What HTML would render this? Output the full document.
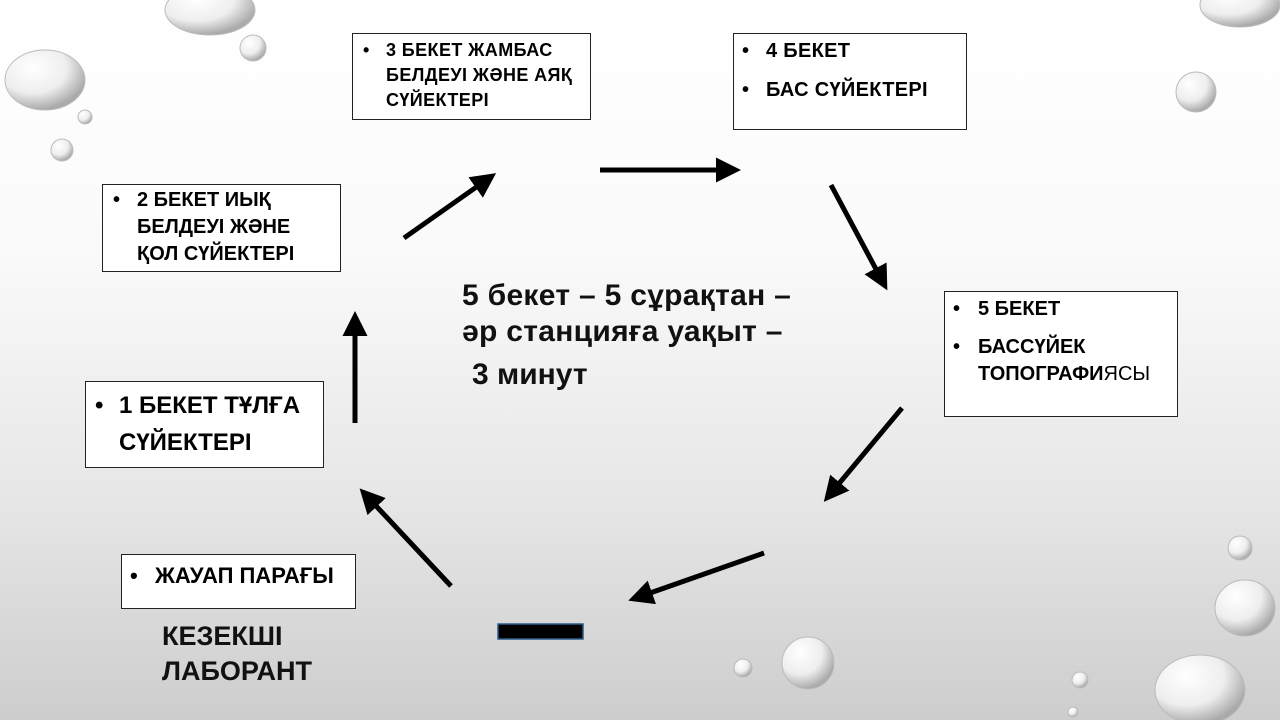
<!DOCTYPE html>
<html><head><meta charset="utf-8"><style>
html,body{margin:0;padding:0}
body{width:1280px;height:720px;position:relative;overflow:hidden;font-family:"Liberation Sans",sans-serif;background:linear-gradient(180deg,#ffffff 0%,#fafafa 35%,#e6e6e6 70%,#cdcdcd 100%)}
.box{position:absolute;border:1px solid #222;background:#fff;font-weight:bold;color:#000;box-sizing:border-box}
.box div{white-space:nowrap}
.t{position:absolute;font-weight:bold;color:#111;white-space:nowrap}
</style></head><body>
<svg width="1280" height="720" style="position:absolute;left:0;top:0">
<defs>
<radialGradient id="d" cx="35%" cy="30%" r="70%"><stop offset="0" stop-color="#fff"/><stop offset="0.6" stop-color="#eee"/><stop offset="1" stop-color="#aaa"/></radialGradient>
<marker id="a" markerWidth="5" markerHeight="5" refX="4" refY="2.5" orient="auto" markerUnits="strokeWidth"><path d="M0,0 L5,2.5 L0,5 Z" fill="#000"/></marker>
</defs>
<g fill="url(#d)" stroke="#bbb" stroke-width="1">
<ellipse cx="210" cy="10" rx="45" ry="25"/>
<circle cx="253" cy="48" r="13"/>
<ellipse cx="45" cy="80" rx="40" ry="30"/>
<circle cx="85" cy="117" r="7"/>
<circle cx="62" cy="150" r="11"/>
<ellipse cx="1240" cy="5" rx="40" ry="22"/>
<circle cx="1196" cy="92" r="20"/>
<circle cx="1240" cy="548" r="12"/>
<ellipse cx="1245" cy="608" rx="30" ry="28"/>
<circle cx="808" cy="663" r="26"/>
<circle cx="743" cy="668" r="9"/>
<ellipse cx="1200" cy="690" rx="45" ry="35"/>
<circle cx="1080" cy="680" r="8"/>
<circle cx="1073" cy="712" r="5"/>
</g>
<g stroke="#000" stroke-width="5" fill="none" marker-end="url(#a)">
<line x1="355" y1="423" x2="355" y2="316"/>
<line x1="404" y1="238" x2="492" y2="176"/>
<line x1="600" y1="170" x2="736" y2="170"/>
<line x1="831" y1="185" x2="885" y2="286"/>
<line x1="902" y1="408" x2="827" y2="498"/>
<line x1="764" y1="553" x2="633" y2="599"/>
<line x1="451" y1="586" x2="363" y2="492"/>
</g>
<rect x="498" y="624" width="85" height="15" fill="#000" stroke="#2a5a8a" stroke-width="1.5"/>
</svg>

<div class="box" style="left:352px;top:33px;width:239px;height:87px;font-size:18px;line-height:25px;letter-spacing:0.4px">
<span style="position:absolute;left:10px;top:4px">•</span>
<div style="position:absolute;left:33px;top:4px">3 БЕКЕТ ЖАМБАС<br>БЕЛДЕУІ ЖӘНЕ АЯҚ<br>СҮЙЕКТЕРІ</div></div>

<div class="box" style="left:733px;top:33px;width:234px;height:97px;font-size:20px;letter-spacing:0.3px">
<span style="position:absolute;left:8px;top:6px">•</span><div style="position:absolute;left:32px;top:6px">4 БЕКЕТ</div>
<span style="position:absolute;left:8px;top:45px">•</span><div style="position:absolute;left:32px;top:45px">БАС СҮЙЕКТЕРІ</div></div>

<div class="box" style="left:102px;top:184px;width:239px;height:88px;font-size:20px;line-height:27px">
<span style="position:absolute;left:10px;top:2px">•</span>
<div style="position:absolute;left:34px;top:2px">2 БЕКЕТ ИЫҚ<br>БЕЛДЕУІ ЖӘНЕ<br>ҚОЛ СҮЙЕКТЕРІ</div></div>

<div class="box" style="left:944px;top:291px;width:234px;height:126px;font-size:20px;line-height:27px">
<span style="position:absolute;left:8px;top:4px">•</span><div style="position:absolute;left:33px;top:4px">5 БЕКЕТ</div>
<span style="position:absolute;left:8px;top:42px">•</span><div style="position:absolute;left:33px;top:42px">БАССҮЙЕК<br>ТОПОГРАФИ<span style="font-weight:normal">ЯСЫ</span></div></div>

<div class="box" style="left:85px;top:381px;width:239px;height:87px;font-size:24px;line-height:37px">
<span style="position:absolute;left:9px;top:5px">•</span><div style="position:absolute;left:33px;top:5px">1 БЕКЕТ ТҰЛҒА<br>СҮЙЕКТЕРІ</div></div>

<div class="box" style="left:121px;top:554px;width:235px;height:55px;font-size:22px">
<span style="position:absolute;left:8px;top:8px">•</span><div style="position:absolute;left:33px;top:8px">ЖАУАП ПАРАҒЫ</div></div>

<div class="t" style="left:162px;top:619px;font-size:27px;line-height:35px">КЕЗЕКШІ<br>ЛАБОРАНТ</div>

<div class="t" style="left:462px;top:278px;font-size:30px;line-height:36px;letter-spacing:0.3px">5 бекет – 5 сұрақтан –<br>әр станцияға уақыт –</div>
<div class="t" style="left:472px;top:358px;font-size:30px">3 минут</div>
</body></html>
